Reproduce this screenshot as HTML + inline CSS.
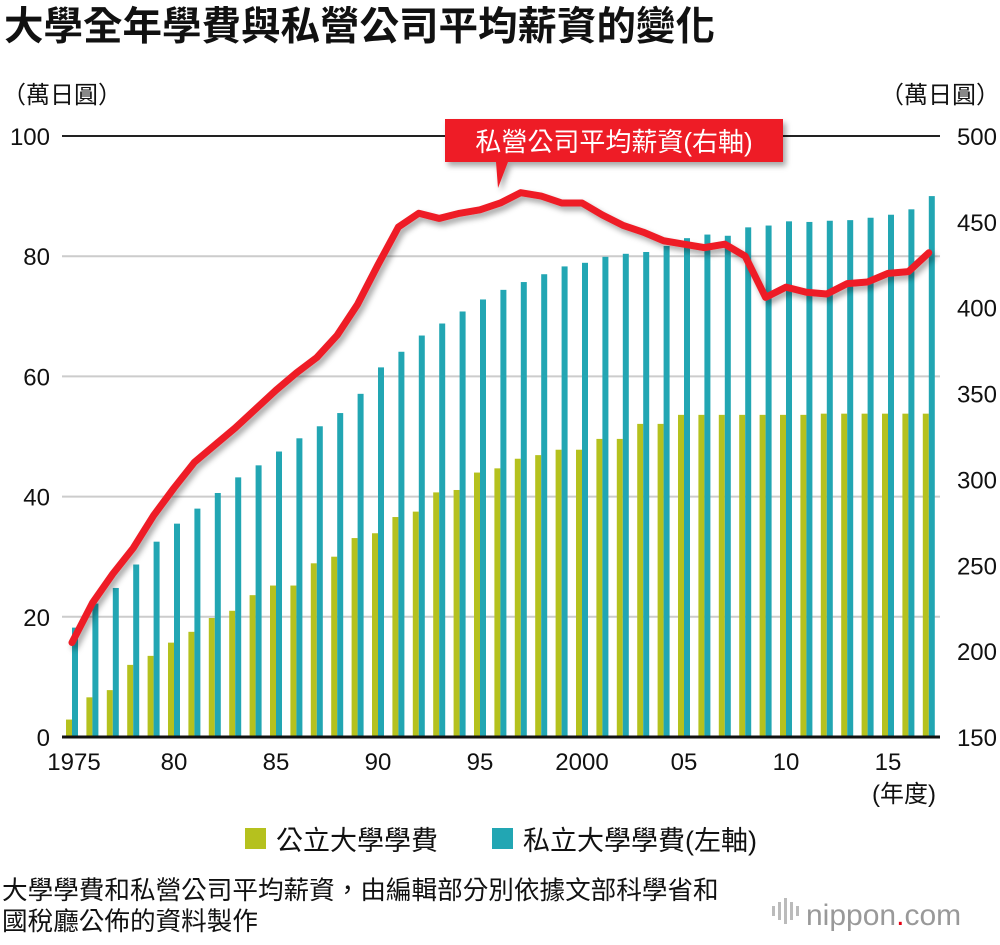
<!DOCTYPE html>
<html><head><meta charset="utf-8"><style>
body{margin:0;background:#fff;width:1000px;height:940px;overflow:hidden;font-family:"Liberation Sans","Noto Sans CJK TC",sans-serif;}
svg text{font-family:"Liberation Sans","Noto Sans CJK TC",sans-serif;}
</style></head><body>
<svg id="chart" width="1000" height="940" xmlns="http://www.w3.org/2000/svg">
<defs><filter id="sh" x="-10%" y="-10%" width="130%" height="140%"><feDropShadow dx="3" dy="4" stdDeviation="3" flood-color="#000" flood-opacity="0.35"/></filter></defs>
<text x="4" y="40" font-size="39.5" font-weight="bold" fill="#111">大學全年學費與私營公司平均薪資的變化</text>
<text x="2" y="103" font-size="24" fill="#111">（萬日圓）</text>
<text x="1000" y="103" font-size="24" fill="#111" text-anchor="end">（萬日圓）</text>
<g id="grid"></g><g id="bars"></g><g id="line"></g><g id="axes"></g>
<g filter="url(#sh)">
<path d="M445 119 H783 V162 H508 L498 188 L496 162 H445 Z" fill="#ee1c25"/>
</g>
<text x="614" y="151" font-size="26" fill="#fff" text-anchor="middle">私營公司平均薪資(右軸)</text>
<text x="936" y="802" font-size="24" fill="#111" text-anchor="end">(年度)</text>
<rect x="245" y="828" width="21" height="21" fill="#b5c11e"/>
<text x="276" y="850" font-size="27" fill="#111">公立大學學費</text>
<rect x="492" y="828" width="21" height="21" fill="#22a6b3"/>
<text x="523" y="850" font-size="27" fill="#111">私立大學學費(左軸)</text>
<text x="2" y="899" font-size="25.6" fill="#111">大學學費和私營公司平均薪資，由編輯部分別依據文部科學省和</text>
<text x="2" y="930" font-size="25.6" fill="#111">國稅廳公佈的資料製作</text>
<g>
<rect x="772" y="906" width="3" height="10" fill="#bbb"/><rect x="778" y="902" width="3" height="18" fill="#bbb"/><rect x="784" y="898" width="3" height="26" fill="#bbb"/><rect x="790" y="902" width="3" height="18" fill="#bbb"/><rect x="796" y="906" width="3" height="10" fill="#bbb"/>
<text x="806" y="925" font-size="30" fill="#999">nippon<tspan fill="#e60012">.</tspan>com</text>
</g>
</svg>
<script>
const years=[];for(let y=1975;y<=2017;y++)years.push(y);
const privateFee=[18.2,22.2,24.8,28.7,32.5,35.5,38.0,40.6,43.2,45.2,47.5,49.7,51.7,53.9,57.1,61.5,64.1,66.8,68.8,70.8,72.8,74.4,75.7,77.0,78.3,78.9,79.9,80.4,80.7,81.7,83.0,83.6,83.4,84.8,85.1,85.8,85.7,85.9,86.0,86.4,86.9,87.8,90.0];
const publicFee=[2.9,6.6,7.8,12.0,13.5,15.7,17.5,19.8,21.0,23.6,25.2,25.2,28.9,30.0,33.1,33.9,36.6,37.5,40.7,41.1,44.0,44.7,46.3,46.9,47.8,47.8,49.6,49.6,52.1,52.1,53.6,53.6,53.6,53.6,53.6,53.6,53.6,53.8,53.8,53.8,53.8,53.8,53.8];
const salary=[205,228,245,260,279,295,310,320,330,341,352,362,371,384,402,425,447,455,452,455,457,461,467,465,461,461,454,448,444,439,437,435,437,430,406,412,409,408,414,415,420,421,432];
const leftTicks=[0,20,40,60,80,100];
const rightTicks=[150,200,250,300,350,400,450,500];
const xTickYears=[1975,1980,1985,1990,1995,2000,2005,2010,2015];
const xTickLabels=["1975","80","85","90","95","2000","05","10","15"];
const NS="http://www.w3.org/2000/svg";
const x=yr=>72+(yr-1975)*20.4;
const yL=v=>737-v*6.01;
const yR=v=>737-(v-150)*601/350;
function mk(tag,attrs,parent){const e=document.createElementNS(NS,tag);for(const k in attrs)e.setAttribute(k,attrs[k]);document.getElementById(parent).appendChild(e);return e;}
leftTicks.forEach((t,i)=>{
 if(t>0){const g=mk('line',{x1:62,x2:940,y1:yL(t),y2:yL(t),stroke:t===100?'#222':'#ccc','stroke-width':2},'grid');
 
 }
 const tx=mk('text',{x:50,y:yL(t)+9,'font-size':24,fill:'#111','text-anchor':'end'},'axes');tx.textContent=t;
 
 
});
rightTicks.forEach(t=>{
 const tx=mk('text',{x:997,y:yR(t)+9,'font-size':24,fill:'#111','text-anchor':'end'},'axes');tx.textContent=t;
 
 
});
xTickYears.forEach((yr,i)=>{
 const tx=mk('text',{x:x(yr)-(yr===1975?-2:0),y:770,'font-size':24,fill:'#111','text-anchor':'middle'},'axes');tx.textContent=xTickLabels[i];
 
 
});
years.forEach((yr,i)=>{
 const b1=mk('rect',{x:x(yr)-6,y:yL(publicFee[i]),width:6,height:publicFee[i]*6.01,fill:'#b5c11e'},'bars');
 
 
 const b2=mk('rect',{x:x(yr),y:yL(privateFee[i]),width:6,height:privateFee[i]*6.01,fill:'#22a6b3'},'bars');
 
 
});
const ax=mk('line',{x1:62,x2:940,y1:737,y2:737,stroke:'#111','stroke-width':3},'axes');


const pts=years.map((yr,i)=>x(yr)+','+yR(salary[i])).join(' ');
const pl=mk('polyline',{points:pts,fill:'none',stroke:'#ee1c25','stroke-width':7,'stroke-linejoin':'round','stroke-linecap':'round',filter:'url(#sh)'},'line');


</script>
</body></html>
